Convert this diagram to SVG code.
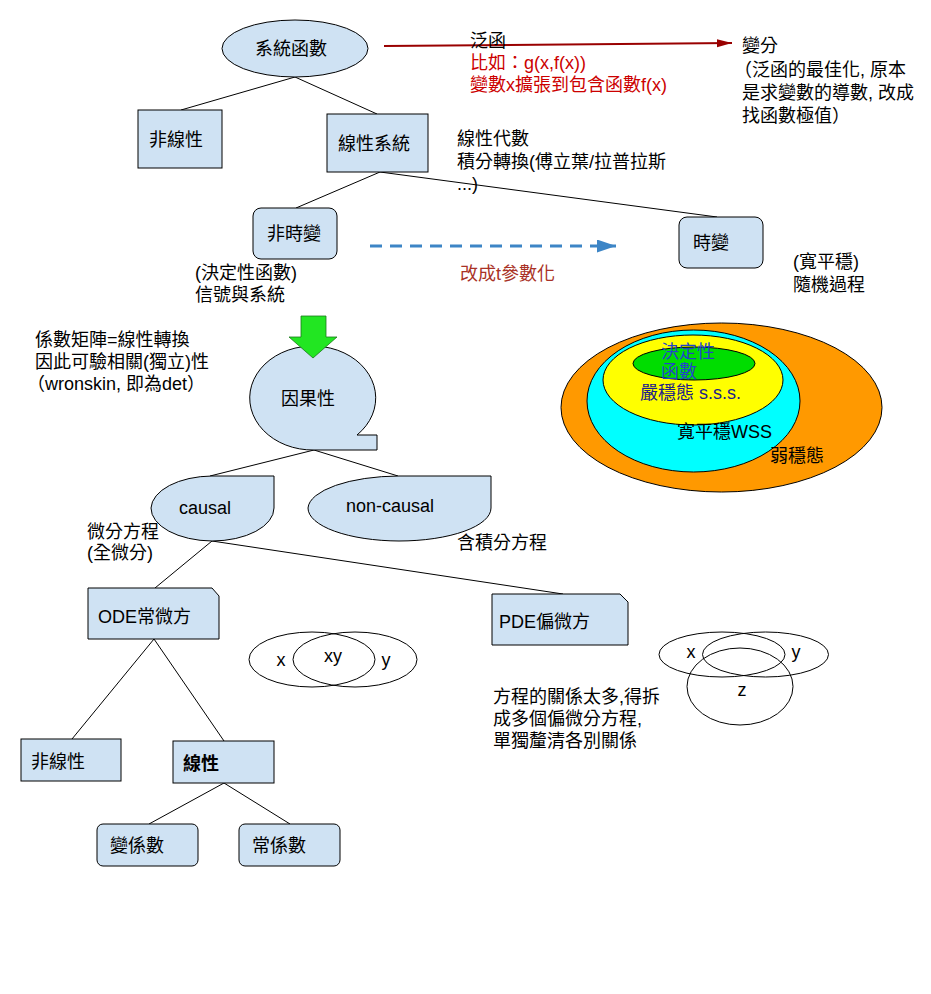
<svg xmlns="http://www.w3.org/2000/svg" width="931" height="994" viewBox="0 0 931 994">
<style>
text{font-family:"Liberation Sans","Noto Sans CJK TC",sans-serif;font-size:18px;fill:#000}
.n{fill:#cfe2f3;stroke:#000;stroke-width:1}
.c{stroke:#000;stroke-width:1;fill:none}
.v{fill:none;stroke:#000;stroke-width:1}
.red{fill:#cc0000}
</style>
<defs>
<marker id="ar" markerUnits="userSpaceOnUse" markerWidth="16" markerHeight="10" refX="15" refY="4" orient="auto"><path d="M0,0 L15,4 L0,8 Z" fill="#990000"/></marker>
<marker id="ab" markerUnits="userSpaceOnUse" markerWidth="20" markerHeight="14" refX="19" refY="6.5" orient="auto"><path d="M0,0 L19,6.5 L0,13 Z" fill="#3d85c6"/></marker>
</defs>
<rect width="931" height="994" fill="#fff"/>

<g id="connectors">
<line class="c" x1="295" y1="77" x2="181" y2="110"/>
<line class="c" x1="295" y1="77" x2="377" y2="114"/>
<line class="c" x1="380" y1="172" x2="296" y2="208"/>
<line class="c" x1="380" y1="172" x2="717" y2="217"/>
<line class="c" x1="314" y1="450" x2="210" y2="476"/>
<line class="c" x1="314" y1="450" x2="398" y2="476"/>
<line class="c" x1="212" y1="541" x2="155" y2="588"/>
<line class="c" x1="212" y1="541" x2="563" y2="594"/>
<line class="c" x1="154" y1="639" x2="72" y2="739"/>
<line class="c" x1="154" y1="639" x2="224" y2="741"/>
<line class="c" x1="224" y1="783" x2="149" y2="824"/>
<line class="c" x1="224" y1="783" x2="290" y2="824"/>
<line x1="384" y1="46" x2="732" y2="43" stroke="#990000" stroke-width="2" marker-end="url(#ar)"/>
<line x1="370" y1="246" x2="616" y2="246" stroke="#3d85c6" stroke-width="3" stroke-dasharray="12,8" marker-end="url(#ab)"/>
</g>

<g id="n-system">
<ellipse class="n" cx="295" cy="48.5" rx="73" ry="28.5"/>
<text x="291" y="55" text-anchor="middle">系統函數</text>
</g>
<g id="n-nonlinear-top">
<rect class="n" x="138" y="110" width="84" height="58"/>
<text x="149" y="146">非線性</text>
</g>
<g id="n-linear-system">
<rect class="n" x="327" y="114" width="101" height="58"/>
<text x="338" y="150">線性系統</text>
</g>
<g id="n-time-invariant">
<rect class="n" x="253" y="208" width="84" height="51" rx="8"/>
<text x="267" y="240">非時變</text>
</g>
<g id="n-time-variant">
<rect class="n" x="679" y="217" width="84" height="51" rx="8"/>
<text x="693" y="249">時變</text>
</g>
<g id="n-causality">
<path class="n" d="M357,435 L377,435 L377,450 L314,450 A63,52 0 1 1 357,435 Z"/>
<text x="308" y="405" text-anchor="middle">因果性</text>
</g>
<g id="n-green-arrow">
<polygon points="301,316 326,316 326,337 337,337 313,358 289,337 301,337" fill="#22e622" stroke="#1a7a1a" stroke-width="0.8"/>
</g>
<g id="n-causal">
<path class="n" d="M212,476 L274,476 L274,508 A62,33 0 0 1 212,541 A62,33 0 0 1 151,508 A62,33 0 0 1 212,476 Z"/>
<text x="205" y="514" text-anchor="middle">causal</text>
</g>
<g id="n-noncausal">
<path class="n" d="M399,476 L491,476 L491,508 A92,33 0 0 1 399,541 A92,33 0 0 1 308,508 A92,33 0 0 1 399,476 Z"/>
<text x="390" y="512" text-anchor="middle">non-causal</text>
</g>
<g id="n-ode">
<path class="n" d="M88,588 L212,588 L219,596 L219,639 L88,639 Z"/>
<text x="98" y="623">ODE常微方</text>
</g>
<g id="n-pde">
<path class="n" d="M492,594 L620,594 L628,602 L628,645 L492,645 Z"/>
<text x="499" y="628">PDE偏微方</text>
</g>
<g id="n-nonlinear-bottom">
<rect class="n" x="21" y="739" width="100" height="42"/>
<text x="31" y="768">非線性</text>
</g>
<g id="n-linear">
<rect class="n" x="173" y="741" width="101" height="42"/>
<text x="183" y="770" font-weight="bold">線性</text>
</g>
<g id="n-var-coef">
<rect class="n" x="97" y="824" width="101" height="42" rx="6"/>
<text x="110" y="852">變係數</text>
</g>
<g id="n-const-coef">
<rect class="n" x="239" y="824" width="101" height="42" rx="6"/>
<text x="252" y="852">常係數</text>
</g>

<g id="stationarity">
<ellipse cx="721.5" cy="407.5" rx="160.5" ry="84.5" fill="#ff9900" stroke="#000" stroke-width="1"/>
<ellipse cx="693.5" cy="401" rx="106.5" ry="71" fill="#00ffff" stroke="#000" stroke-width="1"/>
<ellipse cx="693" cy="380" rx="90" ry="45" fill="#ffff00" stroke="#000" stroke-width="1"/>
<ellipse cx="694" cy="363.5" rx="61" ry="16.5" fill="#00dd00" stroke="#000" stroke-width="1"/>
<text x="661" y="358" style="fill:#2244cc">決定性</text>
<text x="661" y="378" style="fill:#2244cc">函數</text>
<text x="640" y="399" style="fill:#20208a">嚴穩態 s.s.s.</text>
<text x="677" y="438" font-size="15">寬平穩WSS</text>
<text x="770" y="462" font-size="17">弱穩態</text>
</g>

<g id="venn-xy">
<ellipse class="v" cx="312" cy="659.5" rx="63" ry="27.5"/>
<ellipse class="v" cx="355" cy="659.5" rx="62" ry="27.5"/>
<text x="281" y="666" text-anchor="middle">x</text>
<text x="333" y="662" text-anchor="middle">xy</text>
<text x="386" y="666" text-anchor="middle">y</text>
</g>
<g id="venn-xyz">
<ellipse class="v" cx="722" cy="654.5" rx="63" ry="22.5"/>
<ellipse class="v" cx="765.5" cy="654.5" rx="63" ry="22.5"/>
<ellipse class="v" cx="740" cy="686.5" rx="53" ry="38.5"/>
<text x="691" y="658" text-anchor="middle">x</text>
<text x="796" y="658" text-anchor="middle">y</text>
<text x="742" y="696" text-anchor="middle">z</text>
</g>

<g id="notes">
<text x="470" y="47">泛函</text>
<text x="470" y="69" class="red">比如：g(x,f(x))</text>
<text x="470" y="91" class="red">變數x擴張到包含函數f(x)</text>
<text x="742" y="52">變分</text>
<text x="734" y="76">（泛函的最佳化, 原本</text>
<text x="742" y="99">是求變數的導數, 改成</text>
<text x="742" y="122">找函數極值）</text>
<text x="457" y="145">線性代數</text>
<text x="457" y="168">積分轉換(傅立葉/拉普拉斯</text>
<text x="457" y="190">...)</text>
<text x="460" y="280" style="fill:#a93226">改成t參數化</text>
<text x="793" y="268">(寬平穩)</text>
<text x="793" y="291">隨機過程</text>
<text x="195" y="279">(決定性函數)</text>
<text x="195" y="301">信號與系統</text>
<text x="35" y="346">係數矩陣=線性轉換</text>
<text x="35" y="368">因此可驗相關(獨立)性</text>
<text x="27" y="390">（wronskin, 即為det）</text>
<text x="87" y="538">微分方程</text>
<text x="87" y="559">(全微分)</text>
<text x="457" y="549">含積分方程</text>
<text x="493" y="703">方程的關係太多,得拆</text>
<text x="493" y="725">成多個偏微分方程,</text>
<text x="493" y="747">單獨釐清各別關係</text>
</g>
</svg>
